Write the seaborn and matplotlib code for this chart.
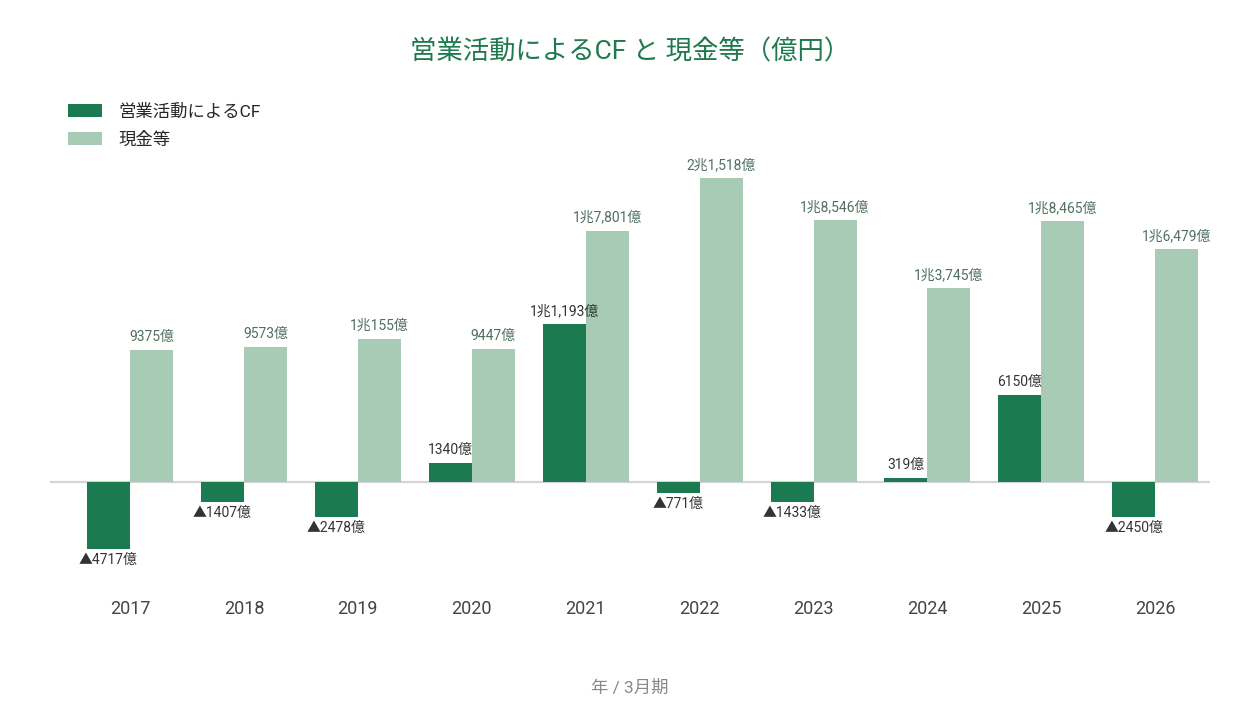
import matplotlib
matplotlib.use("Agg")
import matplotlib.pyplot as plt
import seaborn as sns
import pandas as pd

# data (unit: 億円)
years = ["2017", "2018", "2019", "2020", "2021", "2022", "2023", "2024", "2025", "2026"]
operating_cf = [-4717, -1407, -2478, 1340, 11193, -771, -1433, 319, 6150, -2450]
cash = [9375, 9573, 10155, 9447, 17801, 21518, 18546, 13745, 18465, 16479]
series_names = ["営業活動によるCF", "現金等"]

dark_green = "#1b7a50"
light_green = "#a8cbb6"

sns.set_theme(style="white")
plt.rcParams["font.family"] = ["Roboto", "Noto Sans CJK JP", "DejaVu Sans"]

df = pd.DataFrame({
    "year": years * 2,
    "value": operating_cf + cash,
    "series": [series_names[0]] * len(years) + [series_names[1]] * len(years),
})


def fmt_oku(v):
    sign = "▲" if v < 0 else ""
    v = abs(v)
    if v >= 10000:
        return f"{sign}{v // 10000}兆{v % 10000:,}億"
    return f"{sign}{v}億"


fig = plt.figure(figsize=(12.6, 7.2), dpi=100)
ax = fig.add_axes([50 / 1260, 1 - 585 / 720, 1160 / 1260, 425 / 720])

ax.axhline(0, color="#d4d4d4", lw=1.6, zorder=0.5)
sns.barplot(
    data=df, x="year", y="value", hue="series", order=years,
    hue_order=series_names, palette=[dark_green, light_green],
    width=0.755, gap=0, saturation=1, linewidth=0, ax=ax, legend=True,
)

ax.set_xlim(-0.702, 9.48)
ax.set_ylim(-7290, 22800)

# value labels
for cont, vals, col in zip(ax.containers, [operating_cf, cash], ["#333333", "#4f6f5f"]):
    for bar, v in zip(cont, vals):
        x = bar.get_x() + bar.get_width() / 2
        if v >= 0:
            ax.annotate(fmt_oku(v), (x, v), xytext=(0, 6), textcoords="offset pixels",
                        ha="center", va="bottom", fontsize=10, color=col)
        else:
            ax.annotate(fmt_oku(v), (x, v), xytext=(0, -4), textcoords="offset pixels",
                        ha="center", va="top", fontsize=10, color=col)

for s in ax.spines.values():
    s.set_visible(False)
ax.set_yticks([])
ax.set_ylabel("")
ax.set_xlabel("")
ax.tick_params(axis="x", length=0, pad=11, labelsize=13, labelcolor="#444444")

fig.text(0.5, 1 - 688 / 720, "年 / 3月期", ha="center", va="center", fontsize=12.5, color="#888888")
fig.text(0.5, 1 - 52 / 720, "営業活動によるCF と 現金等（億円）", ha="center", va="center",
         fontsize=19, color="#1e7a4e")

handles, labels = ax.get_legend_handles_labels()
ax.legend(handles, labels, loc="upper left", bbox_to_anchor=(52 / 1260, 1 - 88 / 720),
          bbox_transform=fig.transFigure, frameon=False, fontsize=12.5,
          handlelength=2.0, handleheight=0.75, handletextpad=0.9, labelspacing=0.65)

fig.savefig("out.png", dpi=100)
